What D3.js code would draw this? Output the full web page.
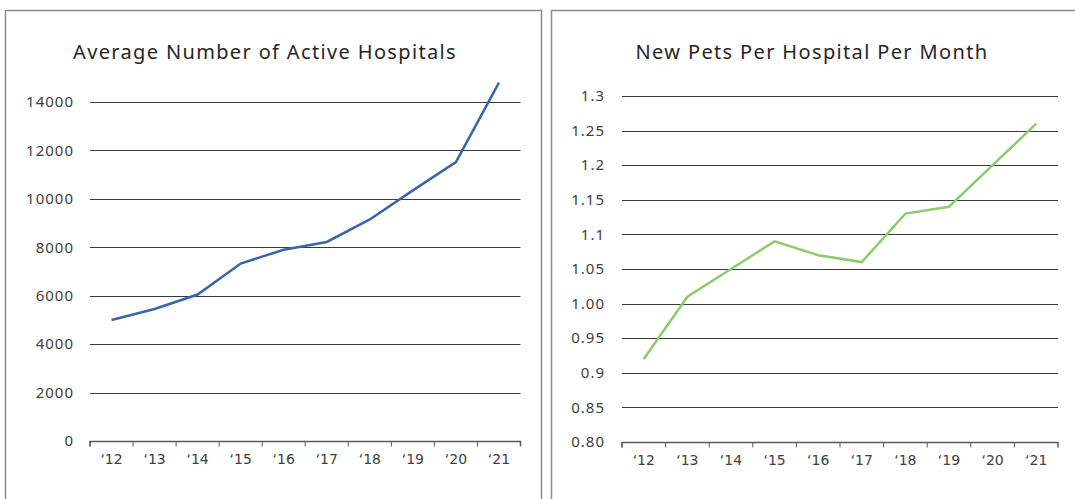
<!DOCTYPE html>
<html>
<head>
<meta charset="utf-8">
<script src="https://cdn.jsdelivr.net/npm/d3@7"></script>
<style>
  body { margin: 0; background: #fff; }
  .title { font-family: "Noto Sans", sans-serif; font-size: 20px; fill: #262626; letter-spacing: 1.35px; }
  .ylab { font-family: "Noto Sans", sans-serif; font-size: 15px; fill: #404040; letter-spacing: 1px; }
  .xlab { font-family: "DejaVu Sans", sans-serif; font-size: 14px; fill: #404040; }
</style>
</head>
<body>
<svg id="chart" width="1075" height="499"></svg>
<script>
var years = ["‘12", "‘13", "‘14", "‘15", "‘16", "‘17", "‘18", "‘19", "‘20", "‘21"];
var hospitals = [5000, 5450, 6050, 7330, 7900, 8220, 9150, 10350, 11520, 14800];
var newPets = [0.92, 1.01, 1.05, 1.09, 1.07, 1.06, 1.13, 1.14, 1.20, 1.26];
var hospTicks = [0, 2000, 4000, 6000, 8000, 10000, 12000, 14000];
var petTicks = [0.80, 0.85, 0.9, 0.95, 1.00, 1.05, 1.1, 1.15, 1.2, 1.25, 1.3];
var petTickLabels = ["0.80", "0.85", "0.9", "0.95", "1.00", "1.05", "1.1", "1.15", "1.2", "1.25", "1.3"];

var svg = d3.select("#chart");

// panel frames
svg.append("rect").attr("x", 5.5).attr("y", 10.5).attr("width", 536).attr("height", 520)
    .attr("fill", "none").attr("stroke", "#8c8c8c").attr("stroke-width", 1.5);
svg.append("rect").attr("x", 551.5).attr("y", 10.5).attr("width", 540).attr("height", 520)
    .attr("fill", "none").attr("stroke", "#8c8c8c").attr("stroke-width", 1.5);

function drawPanel(opts) {
    var g = svg.append("g");
    var x = d3.scaleBand().domain(years).range([opts.x0, opts.x1]);
    var y = d3.scaleLinear().domain(opts.domain).range([opts.y0, opts.y1]);

    g.append("text").attr("class", "title")
        .attr("x", opts.titleX).attr("y", 59)
        .attr("text-anchor", "middle")
        .text(opts.title);

    // gridlines (skip baseline)
    g.selectAll(".grid")
        .data(opts.ticks.slice(1))
        .enter().append("line")
        .attr("x1", opts.x0).attr("x2", opts.x1)
        .attr("y1", function(d) { return Math.round(y(d)) + 0.5; })
        .attr("y2", function(d) { return Math.round(y(d)) + 0.5; })
        .attr("stroke", "#3a3a3a").attr("stroke-width", 1.2);

    // y labels
    g.selectAll(".ylab")
        .data(opts.ticks)
        .enter().append("text")
        .attr("class", "ylab")
        .attr("x", opts.labelX)
        .attr("y", function(d) { return y(d); })
        .attr("dy", "0.35em")
        .attr("text-anchor", "end")
        .text(function(d, i) { return opts.tickLabels[i]; });

    // x axis
    var xAxis = d3.axisBottom(x).tickSize(5).tickSizeOuter(5).tickFormat("");
    var ax = g.append("g")
        .attr("transform", "translate(0," + (Math.round(opts.y0) + 0.5) + ")")
        .call(xAxis);
    ax.select(".domain").attr("stroke", "#595959").attr("stroke-width", 1.5)
        .attr("d", "M" + opts.x0 + ",5V0H" + opts.x1 + "V5");
    ax.selectAll(".tick line")
        .attr("stroke", "#595959")
        .attr("transform", "translate(" + (-x.bandwidth() / 2) + ",0)");

    g.selectAll(".xlab")
        .data(years)
        .enter().append("text")
        .attr("class", "xlab")
        .attr("x", function(d) { return x(d) + x.bandwidth() / 2; })
        .attr("y", opts.y0 + 23)
        .attr("text-anchor", "middle")
        .text(function(d) { return d; });

    var line = d3.line()
        .x(function(d, i) { return x(years[i]) + x.bandwidth() / 2; })
        .y(function(d) { return y(d); });

    g.append("path")
        .datum(opts.values)
        .attr("d", line)
        .attr("fill", "none")
        .attr("stroke", opts.color)
        .attr("stroke-width", 2.5);
}

drawPanel({
    title: "Average Number of Active Hospitals",
    titleX: 265,
    x0: 90, x1: 520.5,
    y0: 441, y1: 102,
    domain: [0, 14000],
    ticks: hospTicks,
    tickLabels: hospTicks.map(function(d) { return String(d); }),
    labelX: 74,
    values: hospitals,
    color: "#3b64ad"
});

drawPanel({
    title: "New Pets Per Hospital Per Month",
    titleX: 812,
    x0: 622, x1: 1058,
    y0: 442, y1: 96,
    domain: [0.8, 1.3],
    ticks: petTicks,
    tickLabels: petTickLabels,
    labelX: 605,
    values: newPets,
    color: "#8dcb6e"
});
</script>
</body>
</html>
